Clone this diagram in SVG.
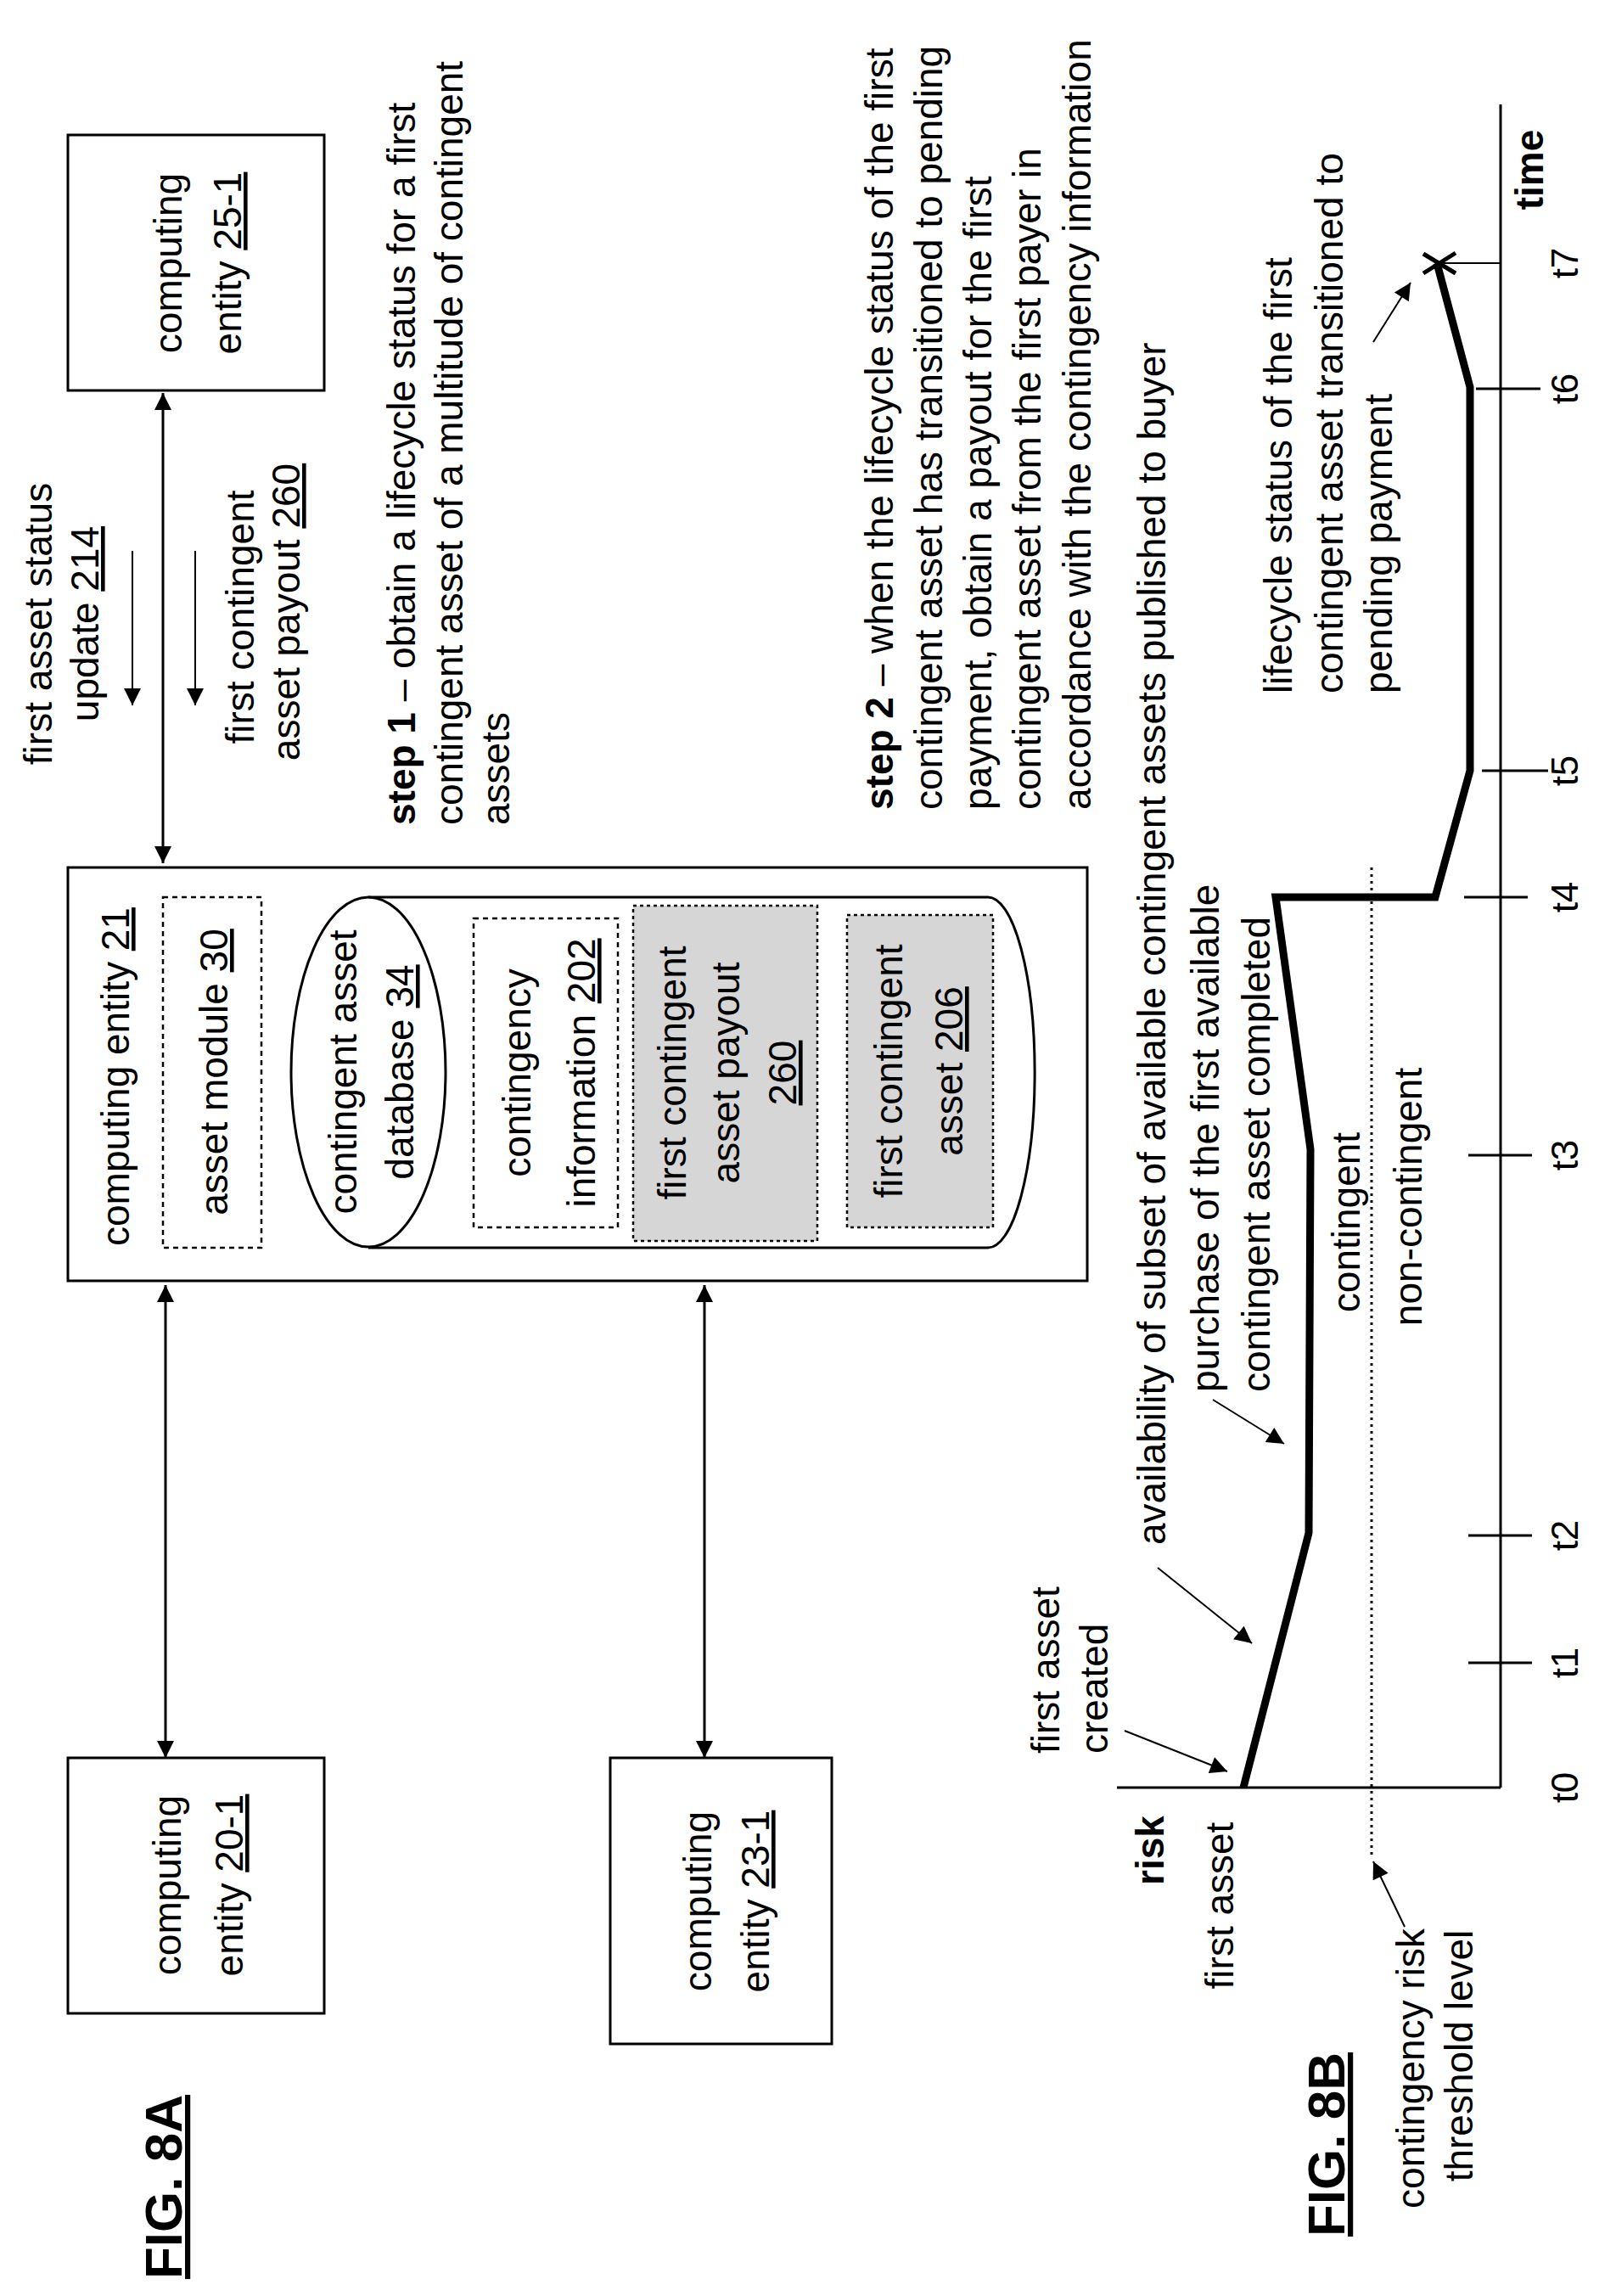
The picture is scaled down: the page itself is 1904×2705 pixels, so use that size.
<svg xmlns="http://www.w3.org/2000/svg" width="1904" height="2705" viewBox="0 0 1904 2705">
<style>
.t{font-family:"Liberation Sans",Arial,sans-serif;font-size:46px;fill:#000}
.s{font-size:44px}
.b{font-weight:bold}
.f{font-weight:bold;font-size:62px;text-decoration:underline}
.u{text-decoration:underline}
.box{fill:#fff;stroke:#000;stroke-width:3}
.dash{fill:none;stroke:#000;stroke-width:2.5;stroke-dasharray:6 5}
.shade{fill:#d6d6d6;stroke:#000;stroke-width:2.5;stroke-dasharray:4 4}
.ln{stroke:#000;stroke-width:3;fill:none}
.thin{stroke:#000;stroke-width:2;fill:none}
</style>
<defs>
<marker id="ah" viewBox="0 0 10 10" refX="10" refY="5" markerWidth="24" markerHeight="20" markerUnits="userSpaceOnUse" orient="auto-start-reverse"><path d="M0,0 L10,5 L0,10 Z" fill="#000"/></marker>
</defs>
<g id="connectors">
<line class="ln" x1="192" y1="463" x2="192" y2="1017" marker-start="url(#ah)" marker-end="url(#ah)"/>
<line class="thin" x1="156" y1="649" x2="156" y2="831" marker-end="url(#ah)"/>
<line class="thin" x1="230" y1="649" x2="230" y2="831" marker-end="url(#ah)"/>
<line class="ln" x1="195" y1="1514" x2="195" y2="2071" marker-start="url(#ah)" marker-end="url(#ah)"/>
<line class="ln" x1="830" y1="1514" x2="830" y2="2071" marker-start="url(#ah)" marker-end="url(#ah)"/>
</g>
<g id="n25">
<rect class="box" x="80" y="159" width="302" height="301"/>
<text class="t" text-anchor="middle" transform="rotate(-90 214 310)" x="214" y="310">computing</text>
<text class="t" text-anchor="middle" transform="rotate(-90 284 310)" x="284" y="310">entity <tspan class="u">25-1</tspan></text>
</g>
<g id="lbl214">
<text class="t" text-anchor="middle" transform="rotate(-90 61 735)" x="61" y="735">first asset status</text>
<text class="t" text-anchor="middle" transform="rotate(-90 116 735)" x="116" y="735">update  <tspan class="u">214</tspan></text>
<text class="t" text-anchor="middle" transform="rotate(-90 299 727)" x="299" y="727">first contingent</text>
<text class="t" text-anchor="middle" transform="rotate(-90 353 721)" x="353" y="721">asset payout  <tspan class="u">260</tspan></text>
</g>
<g id="step1">
<text class="t" transform="rotate(-90 489 972)" x="489" y="972"><tspan class="b">step 1</tspan> – obtain a lifecycle status for a first</text>
<text class="t" transform="rotate(-90 545 972)" x="545" y="972">contingent asset of a multitude of contingent</text>
<text class="t" transform="rotate(-90 600 972)" x="600" y="972">assets</text>
</g>
<g id="step2">
<text class="t" transform="rotate(-90 1052 954)" x="1052" y="954"><tspan class="b">step 2</tspan> – when the lifecycle status of the first</text>
<text class="t" transform="rotate(-90 1110 954)" x="1110" y="954">contingent asset has transitioned to pending</text>
<text class="t" transform="rotate(-90 1168 954)" x="1168" y="954">payment, obtain a payout for the first</text>
<text class="t" transform="rotate(-90 1226 954)" x="1226" y="954">contingent asset from the first payer in</text>
<text class="t" transform="rotate(-90 1285 954)" x="1285" y="954">accordance with the contingency information</text>
</g>
<g id="n21">
<rect class="box" x="80" y="1022" width="1201" height="487"/>
<text class="t" transform="rotate(-90 152 1468)" x="152" y="1468">computing entity <tspan class="u">21</tspan></text>
<rect class="dash" x="192" y="1057" width="116" height="413"/>
<text class="t" text-anchor="middle" transform="rotate(-90 268 1263)" x="268" y="1263">asset module <tspan class="u">30</tspan></text>
</g>
<g id="db34">
<path class="ln" d="M434,1057 H1164 A55,206 0 0 1 1164,1470 H434"/>
<ellipse class="ln" cx="434" cy="1263" rx="91" ry="206"/>
<text class="t" text-anchor="middle" transform="rotate(-90 420 1263)" x="420" y="1263">contingent asset</text>
<text class="t" text-anchor="middle" transform="rotate(-90 487 1263)" x="487" y="1263">database <tspan class="u">34</tspan></text>
</g>
<g id="ci202">
<rect class="dash" x="558" y="1082" width="170" height="364"/>
<text class="t" text-anchor="middle" transform="rotate(-90 625 1264)" x="625" y="1264">contingency</text>
<text class="t" text-anchor="middle" transform="rotate(-90 701 1264)" x="701" y="1264">information <tspan class="u">202</tspan></text>
</g>
<g id="p260">
<rect class="shade" x="746" y="1067" width="217" height="395"/>
<text class="t" text-anchor="middle" transform="rotate(-90 808 1264)" x="808" y="1264">first contingent</text>
<text class="t" text-anchor="middle" transform="rotate(-90 871 1264)" x="871" y="1264">asset payout</text>
<text class="t u" text-anchor="middle" transform="rotate(-90 938 1264)" x="938" y="1264">260</text>
</g>
<g id="a206">
<rect class="shade" x="998" y="1078" width="172" height="368"/>
<text class="t" text-anchor="middle" transform="rotate(-90 1063 1262)" x="1063" y="1262">first contingent</text>
<text class="t" text-anchor="middle" transform="rotate(-90 1134 1262)" x="1134" y="1262">asset <tspan class="u">206</tspan></text>
</g>
<g id="n20">
<rect class="box" x="80" y="2071" width="302" height="301"/>
<text class="t" text-anchor="middle" transform="rotate(-90 213 2221)" x="213" y="2221">computing</text>
<text class="t" text-anchor="middle" transform="rotate(-90 286 2221)" x="286" y="2221">entity <tspan class="u">20-1</tspan></text>
</g>
<g id="n23">
<rect class="box" x="719" y="2071" width="261" height="337"/>
<text class="t" text-anchor="middle" transform="rotate(-90 838 2240)" x="838" y="2240">computing</text>
<text class="t" text-anchor="middle" transform="rotate(-90 906 2240)" x="906" y="2240">entity <tspan class="u">23-1</tspan></text>
</g>
<text class="t f" transform="rotate(-90 214 2685)" x="214" y="2685">FIG. 8A</text>
<g id="fig8b">
<line class="ln" x1="1768" y1="123" x2="1768" y2="2106"/>
<line class="ln" x1="1316" y1="2106" x2="1768" y2="2106"/>
<g class="ln">
<line x1="1730" y1="1959" x2="1805" y2="1959"/>
<line x1="1730" y1="1809" x2="1805" y2="1809"/>
<line x1="1730" y1="1361" x2="1805" y2="1361"/>
<line x1="1725" y1="1057" x2="1800" y2="1057"/>
<line x1="1746" y1="908" x2="1824" y2="908"/>
<line x1="1739" y1="458" x2="1815" y2="458"/>
</g>
<line class="thin" x1="1700" y1="310" x2="1768" y2="310"/>
<g class="t s" text-anchor="middle">
<text transform="rotate(-90 1859 2106)" x="1859" y="2106">t0</text>
<text transform="rotate(-90 1859 1959)" x="1859" y="1959">t1</text>
<text transform="rotate(-90 1859 1809)" x="1859" y="1809">t2</text>
<text transform="rotate(-90 1859 1361)" x="1859" y="1361">t3</text>
<text transform="rotate(-90 1859 1057)" x="1859" y="1057">t4</text>
<text transform="rotate(-90 1859 908)" x="1859" y="908">t5</text>
<text transform="rotate(-90 1859 458)" x="1859" y="458">t6</text>
<text transform="rotate(-90 1859 310)" x="1859" y="310">t7</text>
</g>
<text class="t b" text-anchor="middle" transform="rotate(-90 1818 200)" x="1818" y="200">time</text>
<text class="t b" text-anchor="middle" transform="rotate(-90 1371 2180)" x="1371" y="2180">risk</text>
<text class="t" text-anchor="middle" transform="rotate(-90 1453 2245)" x="1453" y="2245">first asset</text>
<line x1="1616" y1="1022" x2="1616" y2="2185" stroke="#000" stroke-width="3" stroke-dasharray="3 5"/>
<polyline points="1465,2106 1542,1806 1544,1354 1503,1057 1691,1057 1732,908 1732,456 1693,310" fill="none" stroke="#000" stroke-width="9" stroke-linejoin="miter"/>
<path d="M1677,299 L1715,322 M1677,322 L1715,298" stroke="#000" stroke-width="5"/>
<text class="t" text-anchor="middle" transform="rotate(-90 1602 1440)" x="1602" y="1440">contingent</text>
<text class="t" text-anchor="middle" transform="rotate(-90 1675 1410)" x="1675" y="1410">non-contingent</text>
<text class="t" transform="rotate(-90 1248 2066)" x="1248" y="2066">first asset</text>
<text class="t" transform="rotate(-90 1305 2066)" x="1305" y="2066">created</text>
<line class="thin" x1="1325" y1="2039" x2="1446" y2="2087" marker-end="url(#ah)"/>
<text class="t" transform="rotate(-90 1373 1820)" x="1373" y="1820">availability of subset of available contingent assets published to buyer</text>
<line class="thin" x1="1364" y1="1847" x2="1475" y2="1936" marker-end="url(#ah)"/>
<text class="t" transform="rotate(-90 1436 1640)" x="1436" y="1640">purchase of the first available</text>
<text class="t" transform="rotate(-90 1496 1640)" x="1496" y="1640">contingent asset completed</text>
<line class="thin" x1="1429" y1="1649" x2="1513" y2="1701" marker-end="url(#ah)"/>
<text class="t" transform="rotate(-90 1522 817)" x="1522" y="817">lifecycle status of the first</text>
<text class="t" transform="rotate(-90 1582 817)" x="1582" y="817">contingent asset transitioned to</text>
<text class="t" transform="rotate(-90 1640 817)" x="1640" y="817">pending payment</text>
<line class="thin" x1="1618" y1="403" x2="1662" y2="333" marker-end="url(#ah)"/>
<text class="t" text-anchor="middle" transform="rotate(-90 1678 2437)" x="1678" y="2437">contingency risk</text>
<text class="t" text-anchor="middle" transform="rotate(-90 1735 2422)" x="1735" y="2422">threshold level</text>
<line class="thin" x1="1655" y1="2270" x2="1618" y2="2193" marker-end="url(#ah)"/>
<text class="t f" transform="rotate(-90 1584 2635)" x="1584" y="2635">FIG. 8B</text>
</g>
</svg>
